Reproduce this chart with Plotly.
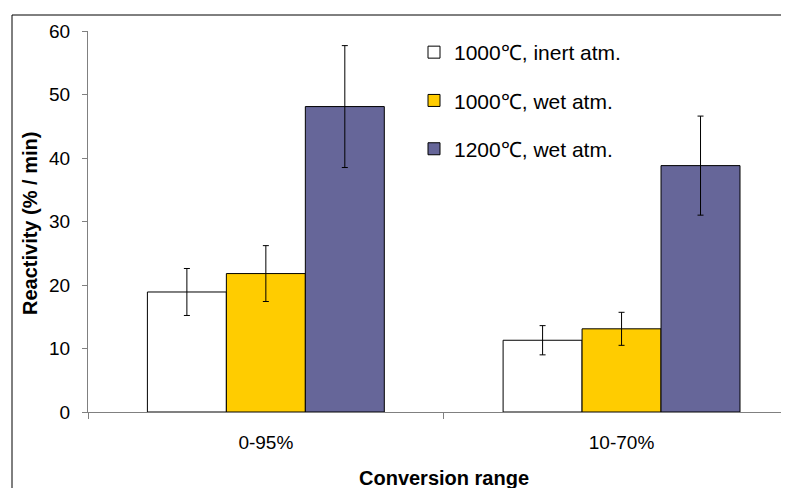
import plotly.graph_objects as go

categories = ["0-95%", "10-70%"]
series_names = ["1000℃, inert atm.", "1000℃, wet atm.", "1200℃, wet atm."]
inert_1000 = [18.9, 11.3]
inert_1000_err = [3.7, 2.3]
wet_1000 = [21.8, 13.1]
wet_1000_err = [4.4, 2.6]
wet_1200 = [48.1, 38.8]
wet_1200_err = [9.6, 7.8]
y_ticks = [0, 10, 20, 30, 40, 50, 60]

colors = ["#FFFFFF", "#FFCC00", "#666699"]
values = [inert_1000, wet_1000, wet_1200]
errors = [inert_1000_err, wet_1000_err, wet_1200_err]

FONT = "Liberation Sans, Arial, sans-serif"

fig = go.Figure()
for i in range(3):
    fig.add_trace(go.Bar(
        x=categories, y=values[i], name=series_names[i],
        legendgroup=f"g{i}",
        marker=dict(color=colors[i], line=dict(color="#000000", width=1)),
        error_y=dict(type="data", array=errors[i], visible=True,
                     color="#000000", thickness=1, width=3),
    ))

# page body has an 8px margin; work in screen pixels and convert
OX, OY = 8, 8
W, H = 800, 488
L = 88 - OX
T = 31 - OY
plot_bottom = 412 - OY
plot_right = 799 - OX
R = W - plot_right
B = H - plot_bottom
pw = W - L - R
ph = H - T - B
cat_w = 355.7

def px_x(sx):
    return (sx - OX - L) / pw

def px_y(sy):
    return (plot_bottom - (sy - OY)) / ph

border = dict(color="#000000", width=1)

fig.update_layout(
    width=W, height=H,
    margin=dict(l=L, r=R, t=T, b=B, pad=0),
    paper_bgcolor="white", plot_bgcolor="white",
    barmode="group", bargap=0.334, bargroupgap=0,
    font=dict(family=FONT, color="#000000", size=19),
    showlegend=True,
    legend=dict(
        x=px_x(414), y=px_y(32), xanchor="left", yanchor="top",
        font=dict(family=FONT, size=21, color="#000000"),
        bgcolor="rgba(0,0,0,0)", borderwidth=0,
        tracegroupgap=18, traceorder="grouped",
    ),
    xaxis=dict(
        type="category", range=[-0.5, -0.5 + pw / cat_w],
        showline=True, linecolor="#808080", linewidth=1,
        ticks="outside", ticklen=6, tickcolor="#808080",
        tickson="boundaries", showgrid=False, zeroline=False,
        tickfont=dict(family=FONT, size=19, color="#000000"),
        ticklabelstandoff=13,
    ),
    yaxis=dict(
        range=[0, 60], tickvals=y_ticks,
        showline=True, linecolor="#808080", linewidth=1,
        ticks="outside", ticklen=5, tickcolor="#808080",
        showgrid=False, zeroline=False,
        tickfont=dict(family=FONT, size=19, color="#000000"),
        ticklabelstandoff=8,
    ),
    shapes=[
        dict(type="line", xref="paper", yref="paper",
             x0=px_x(12), y0=px_y(15), x1=px_x(12), y1=px_y(500),
             line=border, layer="below"),
        dict(type="line", xref="paper", yref="paper",
             x0=px_x(12), y0=px_y(15), x1=px_x(810), y1=px_y(15),
             line=border, layer="below"),
    ],
    annotations=[
        dict(text="<b>Conversion range</b>", xref="paper", yref="paper",
             x=px_x(443.5), y=px_y(478), xanchor="center", yanchor="middle",
             showarrow=False, font=dict(family=FONT, size=20, color="#000000")),
        dict(text="<b>Reactivity (% / min)</b>", xref="paper", yref="paper",
             x=px_x(30), y=px_y(224), xanchor="center", yanchor="middle",
             textangle=-90, showarrow=False,
             font=dict(family=FONT, size=20, color="#000000")),
    ],
)

fig.write_html(
    "out.html",
    config={"displayModeBar": False},
    post_script="document.documentElement.style.overflow='hidden';"
                "document.body.style.overflow='hidden';",
)
